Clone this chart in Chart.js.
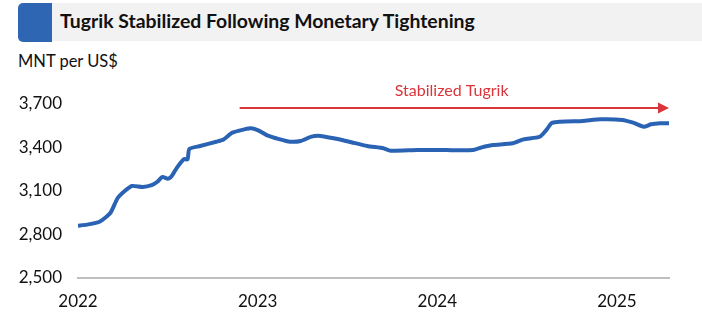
<!DOCTYPE html>
<html>
<head>
<meta charset="utf-8">
<script src="https://cdn.jsdelivr.net/npm/chart.js@4.4.1/dist/chart.umd.min.js"></script>
<style>
    body { margin: 0; background: #fff; }
    #wrap { position: relative; width: 702px; height: 313px; font-family: Lato, 'Open Sans', sans-serif; }
    #titleBar { position: absolute; left: 52px; top: 3px; width: 650px; height: 38px; background: #f2f2f2; }
    #titleBox { position: absolute; left: 18px; top: 3px; width: 34px; height: 39px; background: #2f66b3; border-radius: 5px 0 0 5px; }
    #title { position: absolute; left: 60px; top: 9px; font-weight: bold; font-size: 19.4px; color: #111; white-space: nowrap; }
    #unit { position: absolute; left: 18px; top: 51px; font-size: 16.5px; color: #111; white-space: nowrap; }
    canvas { position: absolute; left: 0; top: 0; }
</style>
</head>
<body>
<div id="wrap">
    <div id="titleBar"></div>
    <div id="titleBox"></div>
    <div id="title">Tugrik Stabilized Following Monetary Tightening</div>
    <div id="unit">MNT per US$</div>
    <canvas id="fxChart" width="702" height="313"></canvas>
</div>
<script>
// Data (decimal years vs MNT per US$)
const dates = [
    2022.00, 2022.05, 2022.12, 2022.18, 2022.22, 2022.26, 2022.30, 2022.36, 2022.41, 2022.44,
    2022.47, 2022.50, 2022.52, 2022.55, 2022.59, 2022.61, 2022.62, 2022.68, 2022.77, 2022.81,
    2022.86, 2022.96, 2023.00, 2023.05, 2023.12, 2023.18, 2023.24, 2023.30, 2023.35, 2023.43,
    2023.51, 2023.61, 2023.70, 2023.74, 2023.89, 2024.05, 2024.20, 2024.26, 2024.31, 2024.42,
    2024.48, 2024.57, 2024.61, 2024.64, 2024.81, 2024.91, 2025.03, 2025.09, 2025.15, 2025.19,
    2025.24, 2025.29
];
const rates = [
    2860, 2868, 2888, 2948, 3050, 3100, 3135, 3128, 3140, 3162,
    3197, 3185, 3200, 3260, 3320, 3318, 3390, 3410, 3440, 3455,
    3502, 3532, 3520, 3486, 3458, 3440, 3445, 3475, 3480, 3462,
    3440, 3410, 3395, 3378, 3383, 3382, 3383, 3405, 3417, 3429,
    3456, 3474, 3525, 3571, 3583, 3594, 3590, 3571, 3543, 3560,
    3567, 3567
];
const yTicks = [2500, 2800, 3100, 3400, 3700];
const xTicks = [2022, 2023, 2024, 2025];

// Annotation
const arrowLabel = 'Stabilized Tugrik';
const arrowFrom = 2022.90;
const arrowTo = 2025.29;
const arrowLevel = 3672;
const labelLevel = 3790;
const labelAt = 2024.08;

const arrowPlugin = {
    id: 'arrowPlugin',
    afterDatasetsDraw(chart) {
        const { ctx, scales: { x, y } } = chart;
        const x1 = x.getPixelForValue(arrowFrom);
        const x2 = x.getPixelForValue(arrowTo);
        const yy = y.getPixelForValue(arrowLevel);
        ctx.save();
        ctx.strokeStyle = '#d9353b';
        ctx.fillStyle = '#d9353b';
        ctx.lineWidth = 2;
        ctx.beginPath();
        ctx.moveTo(x1, yy);
        ctx.lineTo(x2 - 10, yy);
        ctx.stroke();
        ctx.beginPath();
        ctx.moveTo(x2, yy);
        ctx.lineTo(x2 - 11, yy - 5.5);
        ctx.lineTo(x2 - 11, yy + 5.5);
        ctx.closePath();
        ctx.fill();
        ctx.font = '16px Lato, "Open Sans", sans-serif';
        ctx.textAlign = 'center';
        ctx.textBaseline = 'middle';
        ctx.fillText(arrowLabel, x.getPixelForValue(labelAt), y.getPixelForValue(labelLevel));
        ctx.restore();
    }
};

const points = dates.map((d, i) => ({ x: d, y: rates[i] }));

new Chart(document.getElementById('fxChart'), {
    type: 'line',
    data: {
        datasets: [{
            data: points,
            borderColor: '#2b63b4',
            borderWidth: 4,
            pointRadius: 0,
            tension: 0.2,
            fill: false
        }]
    },
    options: {
        responsive: false,
        animation: false,
        layout: { padding: { top: 104, right: 33, left: 0, bottom: 0 } },
        plugins: {
            legend: { display: false },
            tooltip: { enabled: false }
        },
        scales: {
            x: {
                type: 'linear',
                min: 2022,
                max: 2025.29,
                afterFit: s => { s.height = 35; },
                afterBuildTicks: s => { s.ticks = xTicks.map(v => ({ value: v })); },
                grid: { display: false, drawTicks: false },
                border: { display: true, color: '#bfbfbf', width: 2 },
                ticks: {
                    padding: 13,
                    color: '#111',
                    font: { family: 'Lato, "Open Sans", sans-serif', size: 17 },
                    callback: v => String(v)
                }
            },
            y: {
                min: 2500,
                max: 3700,
                afterFit: s => { s.width = 78; },
                afterBuildTicks: s => { s.ticks = yTicks.map(v => ({ value: v })); },
                grid: { display: false, drawTicks: false },
                border: { display: false },
                ticks: {
                    padding: 16,
                    color: '#111',
                    font: { family: 'Lato, "Open Sans", sans-serif', size: 17 },
                    callback: v => v.toLocaleString('en-US')
                }
            }
        }
    },
    plugins: [arrowPlugin]
});
</script>
</body>
</html>
